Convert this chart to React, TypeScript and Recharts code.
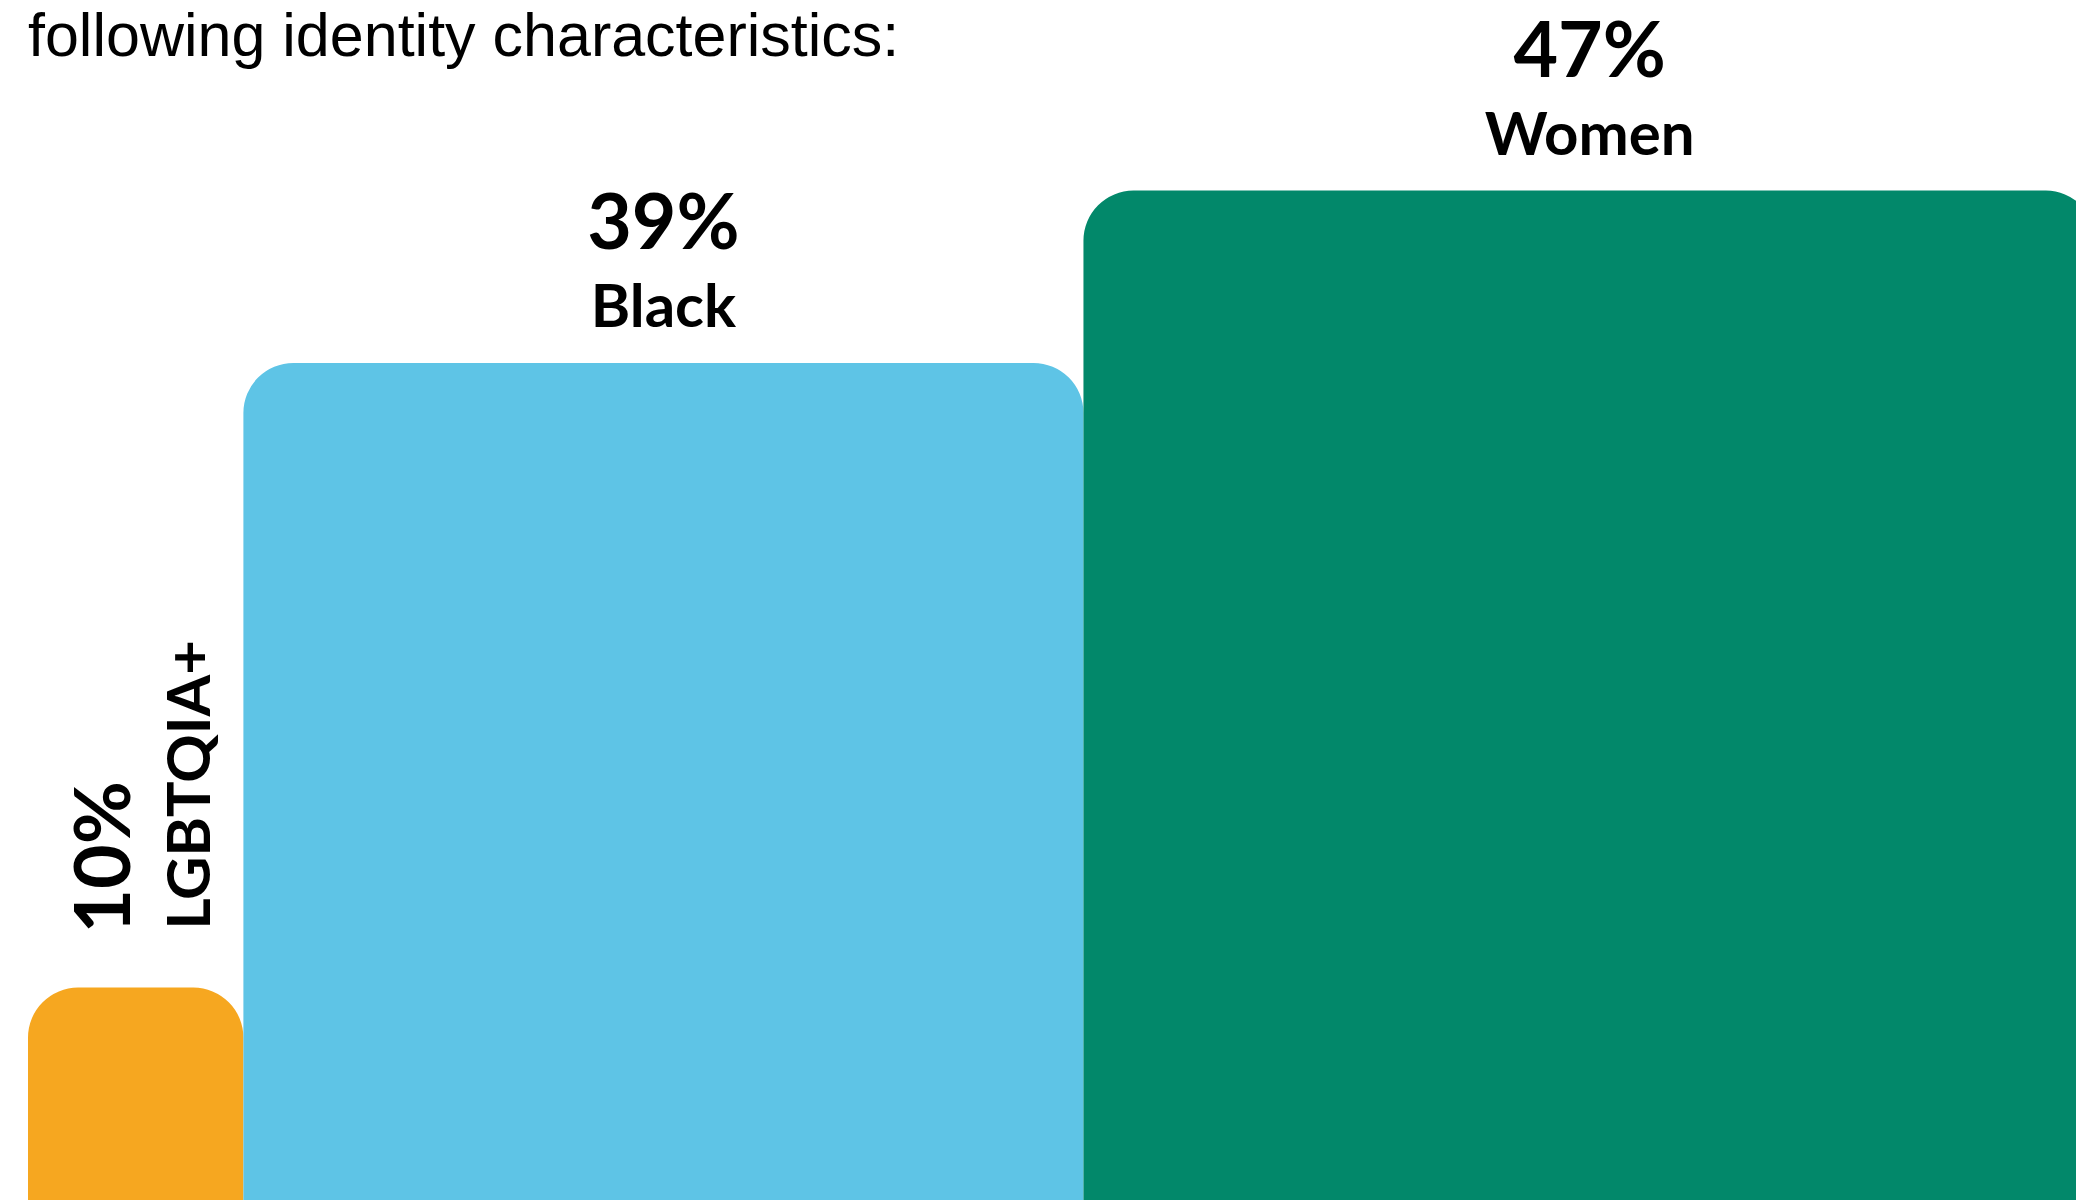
import { ComposedChart, XAxis, YAxis, ReferenceArea, Rectangle } from "recharts";

const categories = ["LGBTQIA+", "Black", "Women"];
const shares = [10, 39, 47];
const colors = ["#F6A720", "#5EC4E6", "#02886A"];
const title = "following identity characteristics:";

const WIDTH = 2076;
const HEIGHT = 1203;
const PX_PER_POINT = 21.54;
const LEFT_PAD = 28;

// each square starts where the previous one ends
const starts = shares.map((_, i) => shares.slice(0, i).reduce((a, b) => a + b, 0));
const rows = categories.map((c, i) => ({ name: c, x: starts[i], share: shares[i] }));

const BOLD = "Lato, 'Noto Sans', sans-serif";

function SquareBar(props: any) {
  const { x, y, width, height, fill, name, share } = props;
  const narrow = width < 300;
  return (
    <g>
      <Rectangle x={x} y={y} width={width} height={height} fill={fill} radius={[50, 50, 0, 0]} />
      {narrow ? (
        <g fontFamily={BOLD} fontWeight={700} fill="#000">
          <text
            x={x + 102}
            y={y - 54}
            fontSize={77}
            transform={`rotate(-90, ${x + 102}, ${y - 54})`}
            textAnchor="start"
          >
            {share}%
          </text>
          <text
            x={x + 182}
            y={y - 58}
            fontSize={60}
            transform={`rotate(-90, ${x + 182}, ${y - 58})`}
            textAnchor="start"
          >
            {name}
          </text>
        </g>
      ) : (
        <g fontFamily={BOLD} fontWeight={700} fill="#000" textAnchor="middle">
          <text x={x + width / 2} y={y - 114} fontSize={77}>
            {share}%
          </text>
          <text x={x + width / 2} y={y - 36} fontSize={60}>
            {name}
          </text>
        </g>
      )}
    </g>
  );
}

export default function App() {
  return (
    <div
      style={{
        position: "absolute",
        left: 0,
        top: 0,
        width: WIDTH,
        height: 1200,
        overflow: "hidden",
        background: "#fff",
      }}
    >
      <ComposedChart width={WIDTH} height={HEIGHT} data={rows} margin={{ top: 0, right: 0, bottom: 0, left: 0 }}>
        <XAxis
          type="number"
          dataKey="x"
          hide
          allowDataOverflow
          domain={[-LEFT_PAD / PX_PER_POINT, (WIDTH - LEFT_PAD) / PX_PER_POINT]}
        />
        <YAxis type="number" hide allowDataOverflow domain={[0, HEIGHT / PX_PER_POINT]} />
        {rows.map((r, i) => (
          <ReferenceArea
            key={r.name}
            x1={r.x}
            x2={r.x + r.share}
            y1={0}
            y2={r.share}
            ifOverflow="visible"
            shape={(p: any) => <SquareBar {...p} fill={colors[i]} name={r.name} share={r.share} />}
          />
        ))}
      </ComposedChart>
      <svg
        width={WIDTH}
        height={120}
        style={{ position: "absolute", left: 0, top: 0, pointerEvents: "none" }}
      >
        <text x={LEFT_PAD} y={56} fontFamily="'Liberation Sans', Arial, sans-serif" fontSize={61} fill="#000">
          {title}
        </text>
      </svg>
    </div>
  );
}
